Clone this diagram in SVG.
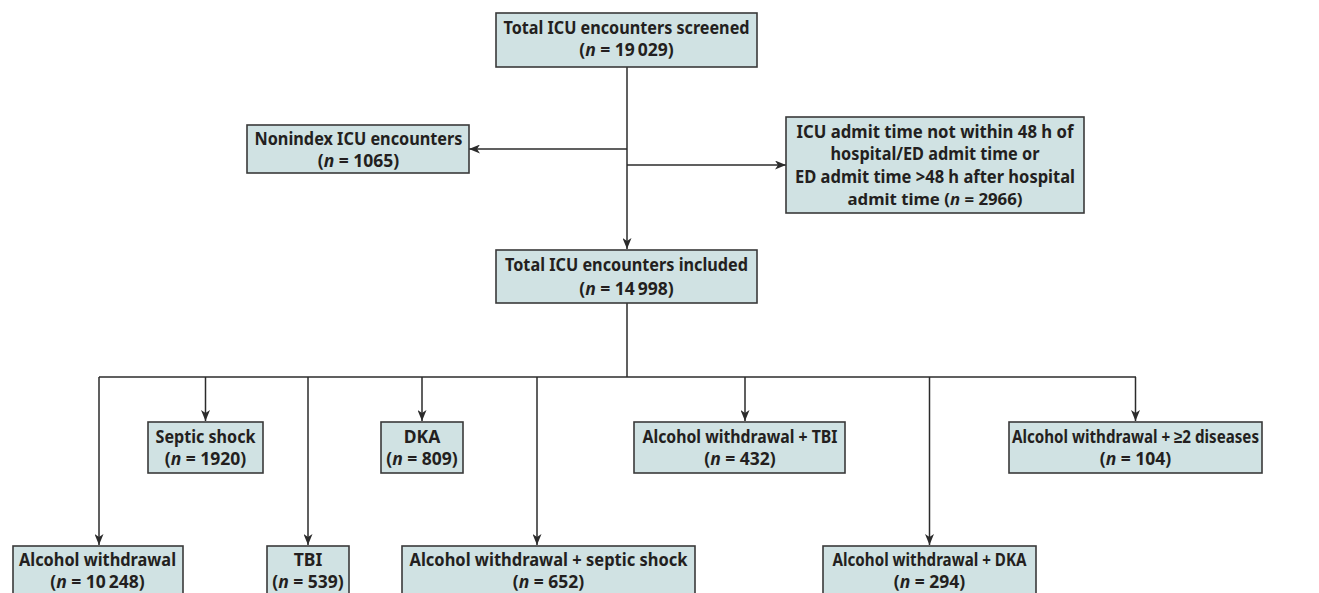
<svg xmlns="http://www.w3.org/2000/svg" width="1319" height="593" viewBox="0 0 1319 593">
<defs>
<marker id="ah" viewBox="0 0 11 9" refX="11" refY="4.5" markerWidth="11" markerHeight="9" markerUnits="userSpaceOnUse" orient="auto">
<path d="M0,0 L11,4.5 L0,9 L3,4.5 Z" fill="#2b2b2b"/>
</marker>
<style>
.box{fill:#d0e2e3;stroke:#3a3a3a;stroke-width:1.6}
.ln{fill:none;stroke:#2b2b2b;stroke-width:1.5}
.ar{marker-end:url(#ah)}
text{font-family:"Noto Sans","Liberation Sans",sans-serif;font-weight:bold;font-size:17.5px;fill:#231f20;text-anchor:middle}
.i{font-style:italic}
.s{font-size:16.8px}
</style>
</defs>
<rect width="1319" height="593" fill="#ffffff"/>
<g id="connectors">
<path class="ln ar" d="M627,67 V249"/>
<path class="ln ar" d="M627,149 H469"/>
<path class="ln ar" d="M627,165 H786"/>
<path class="ln" d="M627,303 V377"/>
<path class="ln" d="M99,377 H1136"/>
<path class="ln ar" d="M99,377 V545"/>
<path class="ln ar" d="M205.5,377 V421"/>
<path class="ln ar" d="M308,377 V545"/>
<path class="ln ar" d="M422,377 V421"/>
<path class="ln ar" d="M537,377 V545"/>
<path class="ln ar" d="M745,377 V421"/>
<path class="ln ar" d="M929.5,377 V545"/>
<path class="ln ar" d="M1135.5,377 V421"/>
</g>
<g id="screened">
<rect class="box" x="496" y="13" width="261" height="54"/>
<text x="626.5" y="34" textLength="246" lengthAdjust="spacingAndGlyphs">Total ICU encounters screened</text>
<text x="626.5" y="56">(<tspan class="i">n</tspan> = 19&#8201;029)</text>
</g>
<g id="nonindex">
<rect class="box" x="247" y="125" width="222" height="48"/>
<text x="358.5" y="145" textLength="208" lengthAdjust="spacingAndGlyphs">Nonindex ICU encounters</text>
<text x="358.5" y="167">(<tspan class="i">n</tspan> = 1065)</text>
</g>
<g id="admit">
<rect class="box" x="786" y="117" width="298" height="96"/>
<text x="935" y="137.5" textLength="277" lengthAdjust="spacingAndGlyphs">ICU admit time not within 48 h of</text>
<text x="935" y="160" textLength="209" lengthAdjust="spacingAndGlyphs">hospital/ED admit time or</text>
<text x="935" y="182.5" textLength="280" lengthAdjust="spacingAndGlyphs">ED admit time &gt;48 h after hospital</text>
<text class="s" x="935" y="204.5">admit time (<tspan class="i">n</tspan> = 2966)</text>
</g>
<g id="included">
<rect class="box" x="496" y="250" width="261" height="53"/>
<text x="626.5" y="271" textLength="243" lengthAdjust="spacingAndGlyphs">Total ICU encounters included</text>
<text x="626.5" y="295">(<tspan class="i">n</tspan> = 14&#8201;998)</text>
</g>
<g id="septic">
<rect class="box" x="148" y="422" width="115" height="51"/>
<text x="205.5" y="443" textLength="100" lengthAdjust="spacingAndGlyphs">Septic shock</text>
<text x="205.5" y="465">(<tspan class="i">n</tspan> = 1920)</text>
</g>
<g id="dka">
<rect class="box" x="381" y="422" width="82" height="51"/>
<text x="422" y="443">DKA</text>
<text x="422" y="465">(<tspan class="i">n</tspan> = 809)</text>
</g>
<g id="aw-tbi">
<rect class="box" x="634" y="422" width="211" height="51"/>
<text x="740" y="443" textLength="195" lengthAdjust="spacingAndGlyphs">Alcohol withdrawal + TBI</text>
<text x="740" y="465">(<tspan class="i">n</tspan> = 432)</text>
</g>
<g id="aw-multi">
<rect class="box" x="1009" y="422" width="253" height="51"/>
<text x="1135.5" y="443" textLength="247" lengthAdjust="spacingAndGlyphs">Alcohol withdrawal + ≥2 diseases</text>
<text x="1135.5" y="465">(<tspan class="i">n</tspan> = 104)</text>
</g>
<g id="aw">
<rect class="box" x="13" y="546" width="170" height="60"/>
<text x="97.5" y="566" textLength="157" lengthAdjust="spacingAndGlyphs">Alcohol withdrawal</text>
<text x="97.5" y="588">(<tspan class="i">n</tspan> = 10&#8201;248)</text>
</g>
<g id="tbi">
<rect class="box" x="267" y="546" width="82" height="60"/>
<text x="308" y="566">TBI</text>
<text x="308" y="588">(<tspan class="i">n</tspan> = 539)</text>
</g>
<g id="aw-septic">
<rect class="box" x="402" y="546" width="293" height="60"/>
<text x="548.5" y="566" textLength="278" lengthAdjust="spacingAndGlyphs">Alcohol withdrawal + septic shock</text>
<text x="548.5" y="588">(<tspan class="i">n</tspan> = 652)</text>
</g>
<g id="aw-dka">
<rect class="box" x="823" y="546" width="213" height="60"/>
<text x="929.5" y="566" textLength="194" lengthAdjust="spacingAndGlyphs">Alcohol withdrawal + DKA</text>
<text x="929.5" y="588">(<tspan class="i">n</tspan> = 294)</text>
</g>
</svg>
